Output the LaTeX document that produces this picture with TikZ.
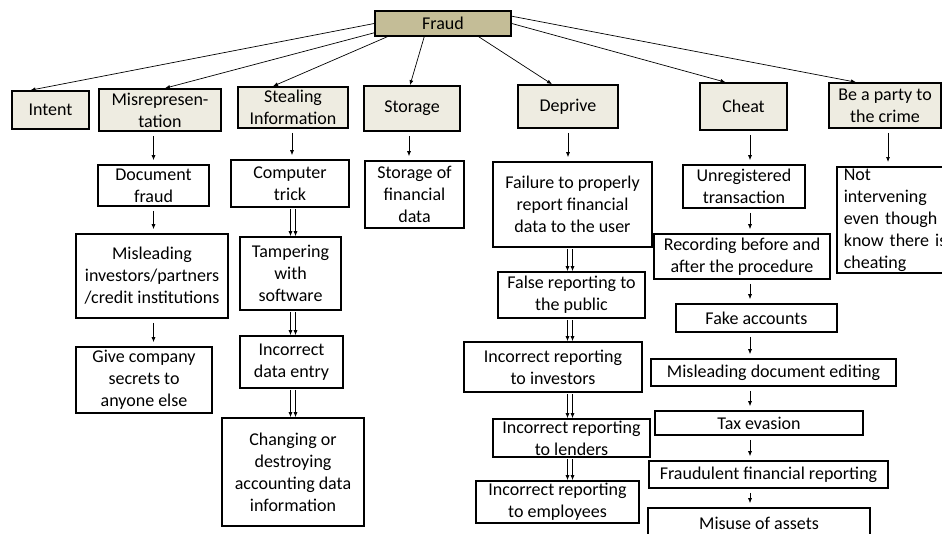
\documentclass[tikz,border=0pt]{standalone}
\usepackage{fontspec}
\setmainfont{Carlito}
\usetikzlibrary{arrows.meta}

\definecolor{fraudtan}{RGB}{196,189,151}
\definecolor{toplight}{RGB}{238,236,225}
\newcommand{\boxfont}{\fontsize{18}{22}\selectfont}

\begin{document}
\begin{tikzpicture}[x=1pt,y=-1pt,
		>={Latex[length=5pt,width=4pt]},
		box/.style={draw, line width=1.6pt, align=center, inner xsep=2pt, inner ysep=0pt, font=\boxfont},
		top/.style={box, fill=toplight},
		link/.style={->, line width=0.7pt, shorten <=4pt, shorten >=4pt},
		twin/.style={->, line width=0.7pt, shorten <=1pt}]

	\clip (0,0) rectangle (942,533);

	% root and first level
	\node[box, fill=fraudtan, minimum width=136pt, minimum height=25pt] (fraud) at (443,23.5) {Fraud};

	\node[top, minimum width=77pt, minimum height=38pt] (intent) at (50.5,110) {Intent};
	\node[top, minimum width=122pt, minimum height=42pt] (misrep) at (160,110) {Misrepresen-\\tation};
	\node[top, minimum width=110pt, minimum height=41pt] (steal) at (293,107.5) {Stealing\\Information};
	\node[top, minimum width=96pt, minimum height=45pt] (storage) at (412,108.5) {Storage};
	\node[top, minimum width=100pt, minimum height=43pt] (deprive) at (568,106.5) {Deprive};
	\node[top, minimum width=87pt, minimum height=47pt] (cheat) at (743.5,106.5) {Cheat};
	\node[top, minimum width=112pt, minimum height=45pt] (party) at (885,105.5) {Be a party to\\the crime};

	\draw[->, line width=0.7pt] (fraud.west) -- ([xshift=-20pt]intent.north);
	\draw[->, line width=0.7pt] ([yshift=4pt]fraud.south west) -- ([xshift=5pt]misrep.north);
	\draw[->, line width=0.7pt] ([xshift=13pt]fraud.south west) -- ([xshift=-20pt]steal.north);
	\draw[->, line width=0.7pt] ([xshift=50pt]fraud.south west) -- ([xshift=-2pt]storage.north);
	\draw[->, line width=0.7pt] ([xshift=-33pt]fraud.south east) -- ([xshift=-16pt]deprive.north);
	\draw[->, line width=0.7pt] (fraud.east) -- ([xshift=-18pt]cheat.north);
	\draw[->, line width=0.7pt] ([yshift=-6pt]fraud.north east) -- ([xshift=-29pt]party.north);

	% misrepresentation
	\node[box, minimum width=111pt, minimum height=41pt] (docfraud) at (153.5,185.5) {Document\\fraud};
	\node[box, minimum width=152pt, minimum height=84pt] (mislead) at (152,276) {Misleading\\investors/partners\\/credit institutions};
	\node[box, minimum width=136pt, minimum height=66pt] (secrets) at (144,380) {Give company\\secrets to\\anyone else};

	\draw[link] (docfraud.north |- misrep.south) -- (docfraud.north);
	\draw[link] (docfraud.south) -- (docfraud.south |- mislead.north);
	\draw[link] (docfraud.south |- mislead.south) -- (docfraud.south |- secrets.north);

	% stealing information
	\node[box, minimum width=118pt, minimum height=47pt] (comptrick) at (290,183.5) {Computer\\trick};
	\node[box, minimum width=101pt, minimum height=73pt] (tamper) at (290.5,273.5) {Tampering\\with\\software};
	\node[box, minimum width=103pt, minimum height=52pt] (dataentry) at (291.5,362) {Incorrect\\data entry};
	\node[box, minimum width=142pt, minimum height=108pt] (changing) at (293,472) {Changing or\\destroying\\accounting data\\information};

	\draw[link] ([xshift=-1pt]steal.south) -- ([xshift=-1pt]steal.south |- comptrick.north);
	\foreach \a/\b in {comptrick/tamper, tamper/dataentry, dataentry/changing}
		\foreach \d in {-2.5,2.5}
			\draw[twin] ([xshift=\d pt]\a.south -| steal.south) -- ([xshift=\d pt]\b.north -| steal.south);

	% storage
	\node[box, minimum width=99pt, minimum height=67pt] (storefin) at (414.5,194.5) {Storage of\\financial\\data};

	\draw[link] ([xshift=-3pt]storage.south) -- ([xshift=-3pt]storage.south |- storefin.north);

	% deprive
	\node[box, minimum width=159pt, minimum height=85pt] (failure) at (572.5,204.5) {Failure to properly\\report financial\\data to the user};
	\node[box, minimum width=147pt, minimum height=46pt] (public) at (571.5,295) {False reporting to\\the public};
	\node[box, minimum width=178pt, minimum height=50pt] (investors) at (553,367) {Incorrect reporting\\to investors};
	\node[box, minimum width=157pt, minimum height=38pt] (lenders) at (571.5,438) {Incorrect reporting\\to lenders};
	\node[box, minimum width=163pt, minimum height=42pt] (employees) at (557.5,502) {Incorrect reporting\\to employees};

	\draw[link] (deprive.south) -- (deprive.south |- failure.north);
	\foreach \a/\b in {failure/public, public/investors, investors/lenders, lenders/employees}
		\foreach \d in {-0.5,4.5}
			\draw[twin] ([xshift=\d pt]\a.south -| deprive.south) -- ([xshift=\d pt]\b.north -| deprive.south);

	% cheat
	\coordinate (cheatcol) at (750,0);
	\node[box, minimum width=122pt, minimum height=43pt] (unreg) at (744,186.5) {Unregistered\\transaction};
	\node[box, minimum width=176pt, minimum height=45pt] (recording) at (742,256.5) {Recording before and\\after the procedure};
	\node[box, minimum width=161pt, minimum height=28pt] (fake) at (756.5,318) {Fake accounts};
	\node[box, minimum width=245pt, minimum height=27pt] (editing) at (773.5,372.5) {Misleading document editing};
	\node[box, minimum width=208pt, minimum height=24pt] (tax) at (759,423) {Tax evasion};
	\node[box, minimum width=239pt, minimum height=27pt] (fraudrep) at (768.5,474.5) {Fraudulent financial reporting};
	\node[box, minimum width=222pt, minimum height=30pt] (misuse) at (759,523) {Misuse of assets};

	\draw[link] (cheat.south -| cheatcol) -- (unreg.north -| cheatcol);
	\foreach \a/\b in {unreg/recording, recording/fake, fake/editing, editing/tax, tax/fraudrep, fraudrep/misuse}
		\draw[link] (\a.south -| cheatcol) -- (\b.north -| cheatcol);

	% be a party to the crime
	\node[box, align=left, anchor=north west, text width=130pt, inner xsep=7pt, minimum height=106pt] (notint) at (836,166) {Not\\intervening\\even though\\know there is\\cheating};

	\draw[link] ([xshift=3pt]party.south) -- ([xshift=3pt]party.south |- notint.north);

\end{tikzpicture}
\end{document}
